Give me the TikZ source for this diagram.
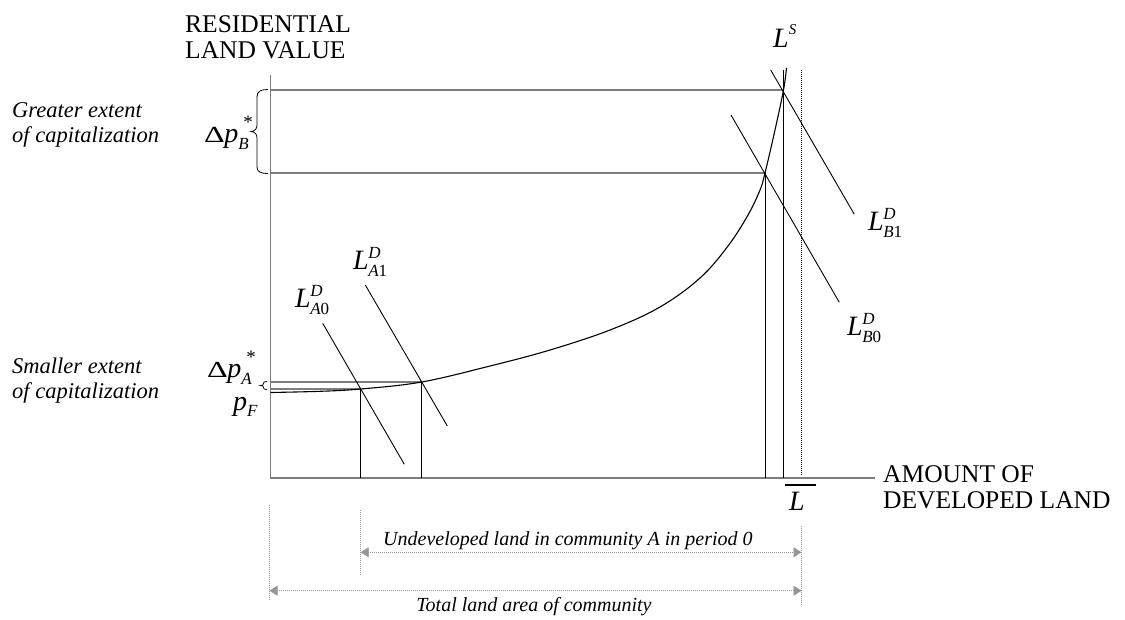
\documentclass[tikz,border=0pt]{standalone}
\usepackage{fontspec}
\setmainfont{Liberation Serif}
\usetikzlibrary{arrows.meta}
\definecolor{axgray}{RGB}{125,125,125}
\definecolor{dotgray}{RGB}{150,150,150}
\newcommand\fs[1]{\fontsize{#1}{#1}\selectfont}
\newcommand\Ld[3]{\textit{#1}\kern-0.5pt\rlap{\raisebox{11pt}{\fs{17}\textit{#2}}}\raisebox{-7pt}{\fs{17}#3}}
\newcommand\Dlab[1]{\scalebox{1.4}[1]{\fs{23}Δ}\kern-0.5pt\textit{p}\rlap{\kern5pt\raisebox{14pt}{\fs{19}*}}\raisebox{-7pt}{\fs{17}\textit{#1}}}
\begin{document}
\begin{tikzpicture}[x=1pt,y=-1pt,
  axis/.style={line width=1.4pt, draw=axgray},
  hline/.style={line width=1.3pt, draw=axgray},
  vline/.style={line width=0.9pt, draw=black},
  demand/.style={line width=0.9pt, draw=black},
  supply/.style={line width=1.1pt, draw=black},
  bracepath/.style={line width=0.8pt, draw=black},
  txt/.style={inner sep=0pt, anchor=base west},
  bigtxt/.style={txt, font=\fs{25.5}},
  sidetxt/.style={txt, font=\fs{22.5}\itshape},
  dimtxt/.style={inner sep=0pt, font=\fs{20}\itshape},
  mathlab/.style={txt, font=\fs{28}},
  guide/.style={line width=0.8pt, draw=black, dash pattern=on 1pt off 1pt},
  dimguide/.style={line width=0.8pt, draw=dotgray, dash pattern=on 1pt off 1pt},
  dimarrow/.style={line width=0.9pt, draw=dotgray, dash pattern=on 1pt off 1pt,
     {Triangle[length=8pt,width=10pt,fill=dotgray]}-{Triangle[length=8pt,width=10pt,fill=dotgray]}}
]
\useasboundingbox (0,0) rectangle (1125,619);

% axes
\coordinate (O) at (270.5,478);
\coordinate (ytop) at (270.5,75);
\coordinate (xend) at (875,478);
\draw[axis] (ytop) -- (O) -- (xend);

% equilibrium points
\coordinate (eA0) at (360.7,389);
\coordinate (eA1) at (421.7,382);
\coordinate (eB0) at (765,173);
\coordinate (eB1) at (783.5,90);
\coordinate (vB1top) at (783.5,70);
\coordinate (Lbartop) at (801.5,70);
\coordinate (Lbarbot) at (801.5,475);

% horizontal price lines
\draw[hline] (eB1 -| O) -- (eB1);
\draw[hline] (eB0 -| O) -- (eB0);
\draw[hline] (eA1 -| O) -- (eA1);
\draw[hline] (eA0 -| O) -- (eA0);

% vertical quantity lines
\draw[vline] (eA0) -- (eA0 |- O);
\draw[vline] (eA1) -- (eA1 |- O);
\draw[vline] (eB0) -- (eB0 |- O);
\draw[vline] (vB1top) -- (vB1top |- O);
\draw[guide] (Lbartop) -- (Lbarbot);

% supply curve
\draw[supply] plot[smooth, tension=0.6] coordinates {(270.5,392.5) (320,391.3) (360.7,389) (421.7,382) (490,366) (550,350) (610,330) (660,307) (700,278) (728,246) (748,215) (760,190) (765,173) (775,130) (783.5,90) (786.5,68)};

% demand curves
\coordinate (A0s) at (322.7,323.3); \coordinate (A0e) at (404.3,464.3);
\coordinate (A1s) at (365.3,285);   \coordinate (A1e) at (447.3,426);
\coordinate (B0s) at (731,115);     \coordinate (B0e) at (839.3,302.3);
\coordinate (B1s) at (770.7,70);    \coordinate (B1e) at (854.3,214.3);
\draw[demand] (A0s) -- (A0e);
\draw[demand] (A1s) -- (A1e);
\draw[demand] (B0s) -- (B0e);
\draw[demand] (B1s) -- (B1e);

% braces
\draw[bracepath] (268,89.5) .. controls (261,89.5) and (257,91) .. (257,97) -- (257,125)
   .. controls (257,129) and (255,131) .. (251,131.5)
   .. controls (255,132) and (257,134) .. (257,138) -- (257,167)
   .. controls (257,172) and (261,173.5) .. (268,173.5);
\draw[bracepath] (267,381.5) .. controls (264,381.5) and (263.5,382) .. (263.5,383.5)
   .. controls (263.5,385) and (262.5,385.5) .. (260.5,385.5)
   .. controls (262.5,385.5) and (263.5,386) .. (263.5,387.5)
   .. controls (263.5,389) and (264,389.5) .. (267,389.5);

% axis labels
\node[bigtxt] (yl1) at (185,32) {RESIDENTIAL};
\node[bigtxt] (yl2) at (185,58) {LAND VALUE};
\node[bigtxt] (xl1) at (883,482) {AMOUNT OF};
\node[bigtxt] (xl2) at (883,508) {DEVELOPED LAND};

% side labels
\node[sidetxt] (g1) at (12,117) {Greater extent};
\node[sidetxt] (g2) at (12,142) {of capitalization};
\node[sidetxt] (s1) at (12,373) {Smaller extent};
\node[sidetxt] (s2) at (12,398) {of capitalization};

% math labels
\node[mathlab] (dpB) at (204,142) {\Dlab{B}};
\node[mathlab] (dpA) at (207,377) {\Dlab{A}};
\node[mathlab] (pF) at (233,410) {\textit{p}\raisebox{-6pt}{\fs{17}\textit{F}}};
\node[mathlab] (LS) at (773,47) {\textit{L}\raisebox{13pt}{\fs{15}\textit{S}}};
\node[mathlab] (LB1) at (868,230) {\Ld{L}{D}{\textit{B}1}};
\node[mathlab] (LB0) at (847,335) {\Ld{L}{D}{\textit{B}0}};
\node[mathlab] (LA1) at (353,269) {\Ld{L}{D}{\textit{A}1}};
\node[mathlab] (LA0) at (295,307) {\Ld{L}{D}{\textit{A}0}};
\node[mathlab] (Lb) at (789,510) {\textit{L}};
\coordinate (barL) at (785,485); \coordinate (barR) at (816,485);
\draw[line width=1.3pt] (barL) -- (barR);

% dimension lines
\coordinate (d0t) at (269.5,505); \coordinate (d0b) at (269.5,600);
\coordinate (d1t) at (360.7,510); \coordinate (d1b) at (360.7,575);
\coordinate (d2t) at (801.5,526); \coordinate (d2b) at (801.5,605);
\draw[dimguide] (d0t) -- (d0b);
\draw[dimguide] (d1t) -- (d1b);
\draw[dimguide] (d2t) -- (d2b);
\coordinate (u0) at (360.7,552.3); \coordinate (u1) at (801.5,552.3);
\coordinate (t0) at (269.5,590.7); \coordinate (t1) at (801.5,590.7);
\draw[dimarrow] (u0) -- (u1);
\draw[dimarrow] (t0) -- (t1);
\node[dimtxt, anchor=base west] (ut) at (383,545) {Undeveloped land in community A in period 0};
\node[dimtxt, anchor=base] (tt) at (534,611.5) {Total land area of community};
\end{tikzpicture}
\end{document}
